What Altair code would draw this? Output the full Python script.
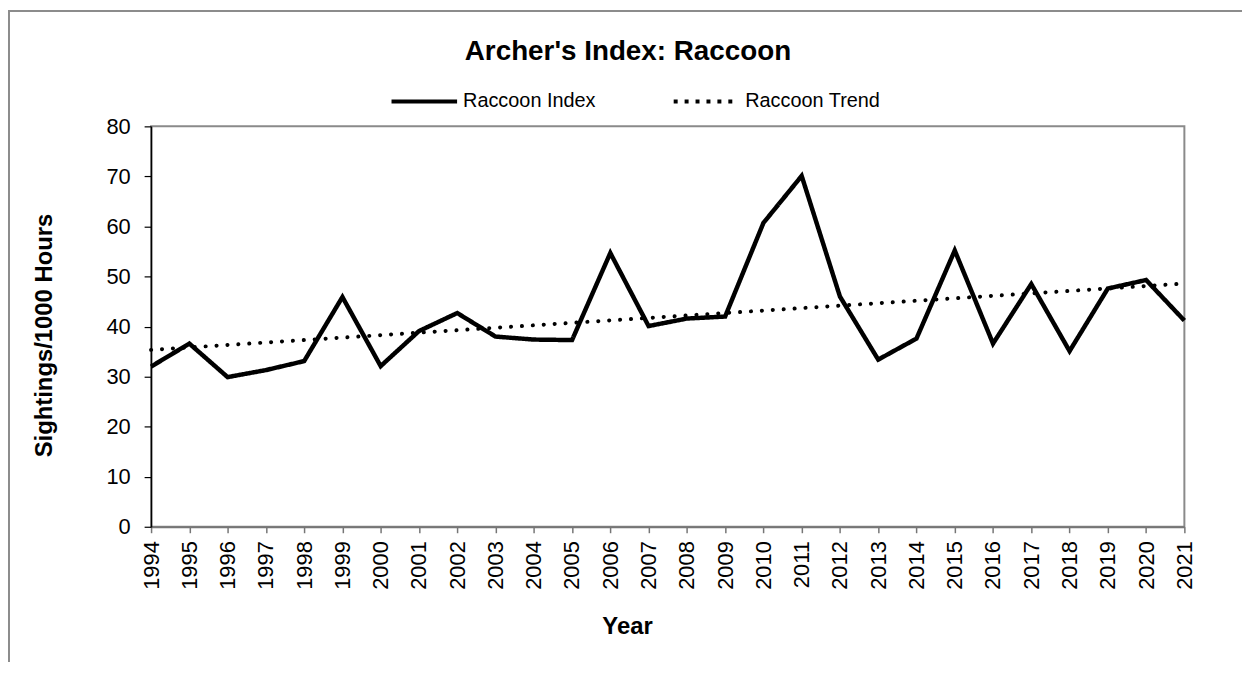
import altair as alt
import pandas as pd

years = list(range(1994, 2022))
index_values = [32.0, 36.6, 29.9, 31.3, 33.1, 45.9, 32.1, 39.1, 42.7, 38.0,
                37.4, 37.3, 54.7, 40.1, 41.6, 42.0, 60.7, 70.1, 46.0, 33.4,
                37.6, 55.2, 36.6, 48.5, 35.1, 47.6, 49.3, 41.2]
series_names = ["Raccoon Index", "Raccoon Trend"]
y_ticks = [0, 10, 20, 30, 40, 50, 60, 70, 80]

df = pd.DataFrame({"Year": years, "Value": index_values})
frame_df = pd.DataFrame({"a": [0]})

FONT = "Liberation Sans"
W, H = 1040, 403
PAD = {"left": 144, "top": 117, "right": 58, "bottom": 136}

x_enc = alt.X(
    "Year:Q",
    scale=alt.Scale(domain=[years[0], years[-1]], nice=False, zero=False),
    axis=alt.Axis(
        values=years, format="d", labelAngle=270, labelFontSize=22,
        labelPadding=8, tickSize=6, labelOverlap=False, grid=False,
        domainColor="#767676", domainWidth=2, tickColor="#767676", tickWidth=1.5,
        title="Year", titleFontSize=24, titleFontWeight="bold",
        titleX=479, titleY=100, titleAlign="center", titleBaseline="middle",
        labelColor="black", titleColor="black",
    ),
)
y_enc = alt.Y(
    "Value:Q",
    scale=alt.Scale(domain=[0, 80], nice=False),
    axis=alt.Axis(
        values=y_ticks, labelFontSize=22, labelPadding=14, tickSize=7,
        grid=False, domainColor="black", domainWidth=1.5, tickColor="black",
        tickWidth=1.2, title="Sightings/1000 Hours", titleFontSize=24,
        titleFontWeight="bold", titleX=-107, titleY=210, titleAngle=270,
        titleAlign="center", titleBaseline="middle",
        labelColor="black", titleColor="black",
    ),
)

color_scale = alt.Scale(domain=series_names, range=["black", "black"])
dash_scale = alt.Scale(domain=series_names, range=[[1, 0], [4, 7]])

legend = alt.Legend(
    title=None, orient="none", legendX=240, legendY=-60, direction="horizontal",
    symbolType="stroke", symbolSize=4356, symbolStrokeWidth=4,
    labelFontSize=20, labelOffset=4, columnPadding=70, labelColor="black",
    labelLimit=300,
)

index_line = (
    alt.Chart(df)
    .transform_calculate(series="'Raccoon Index'")
    .mark_line(strokeWidth=4.5, strokeJoin="miter")
    .encode(
        x=x_enc, y=y_enc,
        color=alt.Color("series:N", scale=color_scale, legend=legend),
        strokeDash=alt.StrokeDash("series:N", scale=dash_scale, legend=legend),
    )
)

trend_line = (
    alt.Chart(df)
    .transform_regression("Year", "Value", method="linear")
    .transform_calculate(series="'Raccoon Trend'")
    .mark_line(strokeWidth=4, strokeCap="round", strokeDash=[0.1, 10.9])
    .encode(
        x=x_enc, y=y_enc,
        color=alt.Color("series:N", scale=color_scale, legend=legend),
    )
)

frame_top = (
    alt.Chart(frame_df)
    .mark_rule(stroke="#8c8c8c", strokeWidth=2)
    .encode(x=alt.value(-144), x2=alt.value(1098), y=alt.value(-116))
)
frame_left = (
    alt.Chart(frame_df)
    .mark_rule(stroke="#8c8c8c", strokeWidth=2)
    .encode(x=alt.value(-143), y=alt.value(-117), y2=alt.value(539))
)

chart = (
    alt.layer(frame_top, frame_left, trend_line, index_line)
    .properties(
        width=W, height=H, padding=PAD,
        autosize=alt.AutoSizeParams(type="none"),
        title=alt.TitleParams(
            "Archer's Index: Raccoon", fontSize=28, fontWeight="bold",
            anchor="middle", dx=-40, dy=67, offset=10, color="black", font=FONT,
        ),
    )
    .configure(font=FONT)
    .configure_view(stroke="#8a8a8a", strokeWidth=2)
    .configure_axis(labelFont=FONT, titleFont=FONT)
    .configure_legend(labelFont=FONT)
)

chart.save("out.html", embed_options={"renderer": "svg", "actions": False})
